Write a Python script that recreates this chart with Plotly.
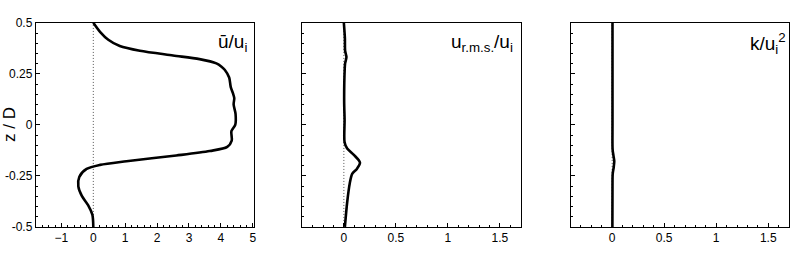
import plotly.graph_objects as go

# ---- data ----
z_mean = [0.5, 0.456, 0.417, 0.386, 0.363, 0.340, 0.322, 0.301, 0.285, 0.270, 0.232,
          0.185, 0.154, 0.131, 0.100, 0.054, 0.0, -0.031, -0.077, -0.108, -0.128,
          -0.150, -0.178, -0.196, -0.216, -0.255, -0.301, -0.348, -0.394, -0.44, -0.5]
u_mean = [0.0, 0.21, 0.47, 0.83, 1.46, 2.5, 3.33, 3.86, 4.02, 4.12, 4.26,
          4.31, 4.38, 4.42, 4.40, 4.46, 4.45, 4.33, 4.34, 4.20, 3.65,
          2.6, 1.04, 0.21, -0.21, -0.44, -0.47, -0.36, -0.16, -0.03, 0.0]

z_rms = [0.5, 0.425, 0.363, 0.332, 0.301, 0.27, 0.116, 0.023, -0.085, -0.116,
         -0.147, -0.185, -0.216, -0.24, -0.286, -0.379, -0.5]
u_rms = [0.0, 0.01, 0.012, 0.025, 0.012, 0.008, 0.003, 0.007, 0.007, 0.032,
         0.096, 0.155, 0.125, 0.08, 0.057, 0.032, 0.01]

z_k = [0.5, 0.0, -0.12, -0.15, -0.178, -0.21, -0.24, -0.3, -0.5]
k_val = [0.003, 0.003, 0.004, 0.012, 0.02, 0.014, 0.005, 0.003, 0.002]

y_ticks = [-0.5, -0.25, 0, 0.25, 0.5]
y_ticktext = ["-0.5", "-0.25", "0", "0.25", "0.5"]
x1_range = [-1.8, 5.05]
x23_ticks = [0, 0.5, 1, 1.5]
x23_ticktext = ["0", "0.5", "1", "1.5"]
x23_range = [-0.4, 1.7]

labels = ["\u016b/u<sub>i</sub>", "u<sub>r.m.s.</sub>/u<sub>i</sub>", "k/u<sub>i</sub><sup>2</sup>"]

FONT = "Liberation Sans, Arial, Helvetica, sans-serif"
H, W = 263, 800
top_px, bot_px = 16.7, 232.3
ydom = [1 - bot_px / H, 1 - top_px / H]
xdoms = [[36 / W, 255 / W], [303 / W, 522 / W], [572 / W, 791 / W]]

fig = go.Figure()
series = [(u_mean, z_mean), (u_rms, z_rms), (k_val, z_k)]
for i, (xv, zv) in enumerate(series):
    fig.add_trace(go.Scatter(
        x=xv, y=zv, mode="lines",
        line=dict(color="black", width=2.6, shape="spline", smoothing=0.8),
        xaxis="x" if i == 0 else f"x{i+1}",
        yaxis="y" if i == 0 else f"y{i+1}",
        showlegend=False, hoverinfo="skip"))

axis_common = dict(
    showline=True, linecolor="black", linewidth=1.3, mirror=True,
    ticks="inside", ticklen=4, tickwidth=1, tickcolor="black",
    showgrid=False, zeroline=False,
    tickfont=dict(family=FONT, size=12, color="black"),
)

layout = dict(
    width=W, height=H, margin=dict(l=0, r=0, t=0, b=0),
    paper_bgcolor="white", plot_bgcolor="white", showlegend=False,
)
for i in range(3):
    xs = "xaxis" if i == 0 else f"xaxis{i+1}"
    ys = "yaxis" if i == 0 else f"yaxis{i+1}"
    ya = "y" if i == 0 else f"y{i+1}"
    xa = "x" if i == 0 else f"x{i+1}"
    if i == 0:
        xax = dict(axis_common, range=x1_range, tick0=0, dtick=1,
                   minor=dict(tick0=0, dtick=0.2, ticks="inside", ticklen=2, tickcolor="black"))
    else:
        xax = dict(axis_common, range=x23_range, tickvals=x23_ticks, ticktext=x23_ticktext,
                   minor=dict(tick0=0, dtick=0.1, ticks="inside", ticklen=2, tickcolor="black"))
    xax.update(domain=xdoms[i], anchor=ya)
    yax = dict(axis_common, range=[-0.5, 0.5], tickvals=y_ticks,
               ticktext=y_ticktext if i == 0 else ["", "", "", "", ""],
               minor=dict(tick0=0, dtick=0.05, ticks="inside", ticklen=2, tickcolor="black"),
               domain=ydom, anchor=xa)
    layout[xs] = xax
    layout[ys] = yax

fig.update_layout(**layout)

# dotted zero reference lines
for i in range(3):
    xa = "x" if i == 0 else f"x{i+1}"
    ya = "y" if i == 0 else f"y{i+1}"
    fig.add_shape(type="line", xref=xa, yref=f"{ya} domain", x0=0, x1=0, y0=0, y1=1,
                  line=dict(color="#555555", width=1, dash="1px,2px"), layer="below")

# panel labels
for i, lab in enumerate(labels):
    xa = "x" if i == 0 else f"x{i+1}"
    ya = "y" if i == 0 else f"y{i+1}"
    fig.add_annotation(text=lab, xref=f"{xa} domain", yref=f"{ya} domain",
                       x=0.975 if i < 2 else 0.995, y=0.9, xanchor="right", yanchor="middle",
                       showarrow=False, font=dict(family=FONT, size=19, color="black"))

# y axis title
fig.add_annotation(text="z / D", xref="paper", yref="paper", x=9.5 / W, y=1 - 124 / H,
                   textangle=-90, showarrow=False, xanchor="center", yanchor="middle",
                   font=dict(family=FONT, size=17, color="black"))

fig.write_html("out.html")
